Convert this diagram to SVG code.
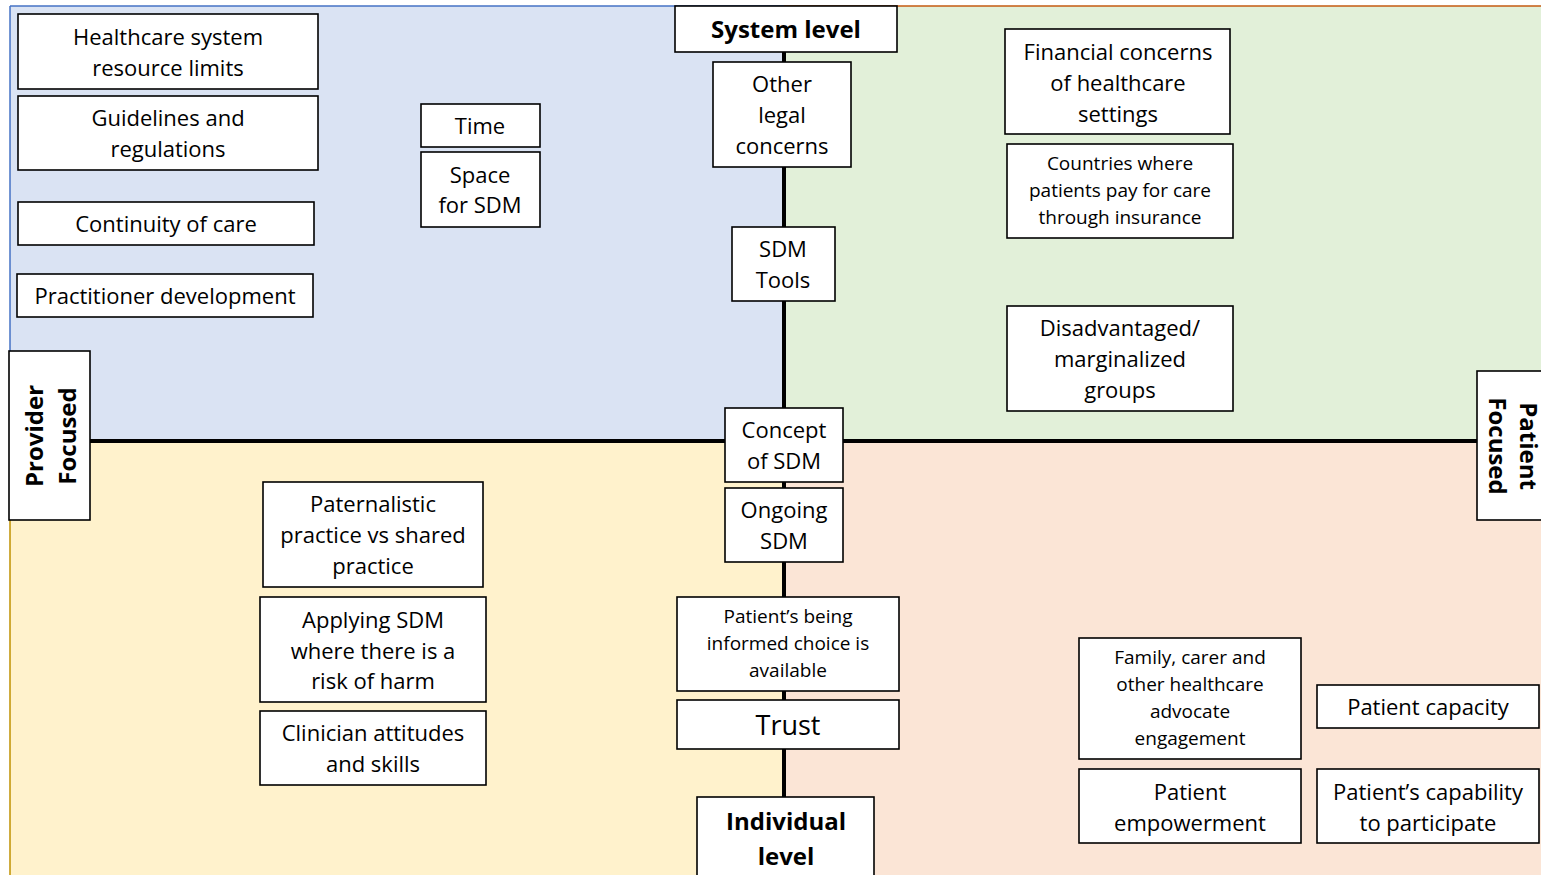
<svg xmlns="http://www.w3.org/2000/svg" width="1541" height="875" viewBox="0 0 1541 875">
<style>
.box{fill:#fff;stroke:#000;stroke-width:1.6}
.t{font-family:"Open Sans","Liberation Sans",sans-serif;font-size:22px;fill:#000;text-anchor:middle;dominant-baseline:central}
.s{font-size:19px}
.b{font-weight:bold;font-size:24px}
</style>
<g id="quadrants">
<rect x="10" y="6" width="774" height="435" fill="#DAE3F3"/>
<rect x="784" y="6" width="757" height="435" fill="#E2F0D9"/>
<rect x="10" y="441" width="774" height="434" fill="#FFF2CC"/>
<rect x="784" y="441" width="757" height="434" fill="#FBE5D6"/>
<line x1="10" y1="6" x2="784" y2="6" stroke="#4472C4" stroke-width="1.5"/>
<line x1="10" y1="6" x2="10" y2="441" stroke="#4472C4" stroke-width="1.5"/>
<line x1="784" y1="6" x2="1541" y2="6" stroke="#C55A11" stroke-width="1.5"/>
<line x1="10" y1="441" x2="10" y2="875" stroke="#BF9000" stroke-width="1.5"/>
</g>
<g id="axes">
<line x1="784" y1="50" x2="784" y2="800" stroke="#000" stroke-width="4"/>
<line x1="90" y1="441" x2="1480" y2="441" stroke="#000" stroke-width="4"/>
</g>
<g id="n-hsrl"><rect class="box" x="18" y="14" width="300" height="75"/><text class="t" x="168" y="36">Healthcare system</text><text class="t" x="168" y="67">resource limits</text></g>
<g id="n-guide"><rect class="box" x="18" y="96" width="300" height="74"/><text class="t" x="168" y="117">Guidelines and</text><text class="t" x="168" y="148">regulations</text></g>
<g id="n-cont"><rect class="box" x="18" y="202" width="296" height="43"/><text class="t" x="166" y="223">Continuity of care</text></g>
<g id="n-pract"><rect class="box" x="17" y="274" width="296" height="43"/><text class="t" x="165" y="295">Practitioner development</text></g>
<g id="n-time"><rect class="box" x="421" y="104" width="119" height="43"/><text class="t" x="480" y="125">Time</text></g>
<g id="n-space"><rect class="box" x="421" y="152" width="119" height="75"/><text class="t" x="480" y="174">Space</text><text class="t" x="480" y="204">for SDM</text></g>
<g id="n-system"><rect class="box" x="675" y="6" width="222" height="46"/><text class="t b" x="786" y="28">System level</text></g>
<g id="n-legal"><rect class="box" x="713" y="62" width="138" height="105"/><text class="t" x="782" y="83">Other</text><text class="t" x="782" y="114">legal</text><text class="t" x="782" y="145">concerns</text></g>
<g id="n-tools"><rect class="box" x="732" y="227" width="103" height="74"/><text class="t" x="783" y="248">SDM</text><text class="t" x="783" y="279">Tools</text></g>
<g id="n-fin"><rect class="box" x="1005" y="29" width="225" height="105"/><text class="t" x="1118" y="51">Financial concerns</text><text class="t" x="1118" y="82">of healthcare</text><text class="t" x="1118" y="113">settings</text></g>
<g id="n-countries"><rect class="box" x="1007" y="144" width="226" height="94"/><text class="t s" x="1120" y="163">Countries where</text><text class="t s" x="1120" y="190">patients pay for care</text><text class="t s" x="1120" y="217">through insurance</text></g>
<g id="n-disadv"><rect class="box" x="1007" y="306" width="226" height="105"/><text class="t" x="1120" y="327">Disadvantaged/</text><text class="t" x="1120" y="358">marginalized</text><text class="t" x="1120" y="389">groups</text></g>
<g id="n-provider"><rect class="box" x="9" y="351" width="81" height="169"/><text class="t b" transform="translate(33,436) rotate(-90)">Provider</text><text class="t b" transform="translate(66,436) rotate(-90)">Focused</text></g>
<g id="n-patient"><rect class="box" x="1477" y="371" width="70" height="149"/><text class="t b" transform="translate(1529,446) rotate(90)">Patient</text><text class="t b" transform="translate(1498,446) rotate(90)">Focused</text></g>
<g id="n-concept"><rect class="box" x="725" y="408" width="118" height="74"/><text class="t" x="784" y="429">Concept</text><text class="t" x="784" y="460">of SDM</text></g>
<g id="n-ongoing"><rect class="box" x="725" y="488" width="118" height="74"/><text class="t" x="784" y="509">Ongoing</text><text class="t" x="784" y="540">SDM</text></g>
<g id="n-patern"><rect class="box" x="263" y="482" width="220" height="105"/><text class="t" x="373" y="503">Paternalistic</text><text class="t" x="373" y="534">practice vs shared</text><text class="t" x="373" y="565">practice</text></g>
<g id="n-harm"><rect class="box" x="260" y="597" width="226" height="105"/><text class="t" x="373" y="619">Applying SDM</text><text class="t" x="373" y="650">where there is a</text><text class="t" x="373" y="680">risk of harm</text></g>
<g id="n-clin"><rect class="box" x="260" y="711" width="226" height="74"/><text class="t" x="373" y="732">Clinician attitudes</text><text class="t" x="373" y="763">and skills</text></g>
<g id="n-informed"><rect class="box" x="677" y="597" width="222" height="94"/><text class="t s" x="788" y="616">Patient’s being</text><text class="t s" x="788" y="643">informed choice is</text><text class="t s" x="788" y="670">available</text></g>
<g id="n-trust"><rect class="box" x="677" y="700" width="222" height="49"/><text class="t" x="788" y="724" style="font-size:27px">Trust</text></g>
<g id="n-individual"><rect class="box" x="697" y="797" width="177" height="90"/><text class="t b" x="786" y="820">Individual</text><text class="t b" x="786" y="855">level</text></g>
<g id="n-family"><rect class="box" x="1079" y="638" width="222" height="121"/><text class="t s" x="1190" y="657">Family, carer and</text><text class="t s" x="1190" y="684">other healthcare</text><text class="t s" x="1190" y="711">advocate</text><text class="t s" x="1190" y="738">engagement</text></g>
<g id="n-capacity"><rect class="box" x="1317" y="685" width="222" height="43"/><text class="t" x="1428" y="706">Patient capacity</text></g>
<g id="n-empower"><rect class="box" x="1079" y="769" width="222" height="74"/><text class="t" x="1190" y="791">Patient</text><text class="t" x="1190" y="822">empowerment</text></g>
<g id="n-capab"><rect class="box" x="1317" y="769" width="222" height="74"/><text class="t" x="1428" y="791">Patient’s capability</text><text class="t" x="1428" y="822">to participate</text></g>
</svg>
